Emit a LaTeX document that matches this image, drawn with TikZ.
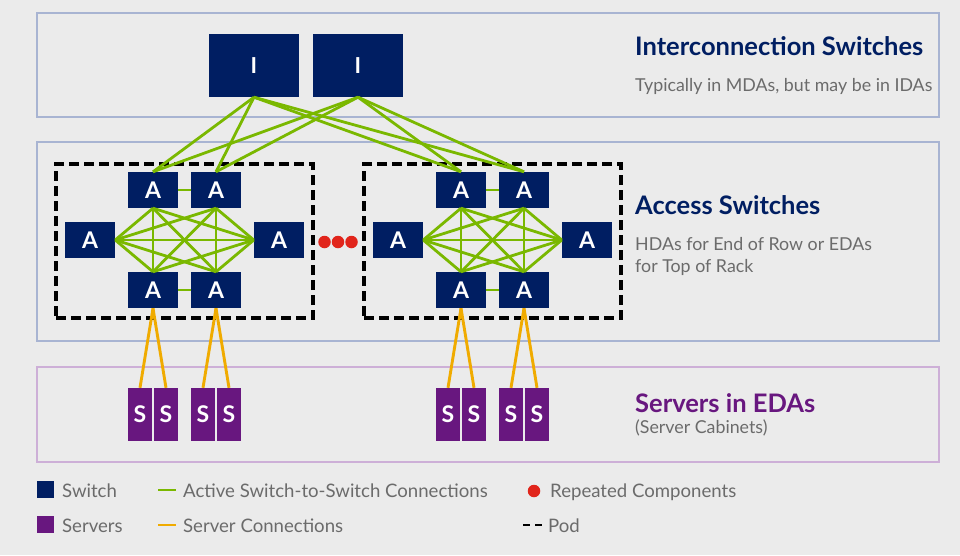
\documentclass[tikz,border=0pt]{standalone}
\usepackage{fontspec}
\setmainfont{Lato}
\definecolor{bgc}{HTML}{EBEBEB}
\definecolor{navy}{HTML}{001E62}
\definecolor{violet}{HTML}{68177F}
\definecolor{lime}{HTML}{7AB800}
\definecolor{amber}{HTML}{F0AB00}
\definecolor{dotred}{HTML}{E1251B}
\definecolor{bandblue}{HTML}{A8B4D2}
\definecolor{bandlilac}{HTML}{CDAFD7}
\definecolor{txtgray}{HTML}{6B6B6B}
\tikzset{
  band/.style={draw=#1, line width=2.6pt, fill=none, inner sep=0pt},
  iswitch/.style={fill=navy, text=white, minimum width=90pt, minimum height=63pt, inner sep=0pt,
    font=\fontsize{22}{26}\selectfont\bfseries},
  aswitch/.style={fill=navy, text=white, minimum width=50pt, minimum height=36pt, inner sep=0pt,
    font=\fontsize{23}{26}\selectfont\bfseries},
  server/.style={fill=violet, text=white, minimum width=24pt, minimum height=53pt, inner sep=0pt,
    font=\fontsize{23}{26}\selectfont\bfseries},
  podbox/.style={draw=black, line width=3.1pt, dash pattern=on 10pt off 5pt, inner sep=0pt},
  mesh/.style={draw=lime, line width=2.8pt},
  srvlink/.style={draw=amber, line width=2.9pt},
  heading/.style={anchor=base west, inner sep=0pt, font=\fontsize{25.5}{29}\selectfont\bfseries},
  note/.style={anchor=base west, inner sep=0pt, text=txtgray, font=\fontsize{17.8}{22}\selectfont},
  legtext/.style={anchor=base west, inner sep=0pt, text=txtgray, font=\fontsize{18.6}{22}\selectfont},
  reddot/.style={circle, fill=dotred, minimum size=12.5pt, inner sep=0pt},
}
\begin{document}
\begin{tikzpicture}[x=1pt, y=-1pt]
\useasboundingbox (0,0) rectangle (960,555);
\fill[bgc] (0,0) rectangle (960,555);

% three horizontal bands
\node[band=bandblue, minimum width=902pt, minimum height=104pt] (bandI) at (488,65) {};
\node[band=bandblue, minimum width=902pt, minimum height=199pt] (bandA) at (488,241.5) {};
\node[band=bandlilac, minimum width=902pt, minimum height=95pt] (bandS) at (488,414.5) {};

% pods (dashed outlines)
\node[podbox, minimum width=257pt, minimum height=154pt] (pod1) at (184.5,241) {};
\node[podbox, minimum width=257pt, minimum height=154pt] (pod2) at (492.5,241) {};

% interconnection switches
\node[iswitch] (i1) at (254,65.5) {I};
\node[iswitch] (i2) at (358,65.5) {I};

% access switches and servers of each pod
\foreach \p/\dx in {p1/0, p2/308}{
  \node[aswitch] (\p tl) at (153+\dx,190) {A};
  \node[aswitch] (\p tr) at (216+\dx,190) {A};
  \node[aswitch] (\p l)  at (90+\dx,240) {A};
  \node[aswitch] (\p r)  at (279+\dx,240) {A};
  \node[aswitch] (\p bl) at (153+\dx,290) {A};
  \node[aswitch] (\p br) at (216+\dx,290) {A};
  \node[server] (\p s1) at (140+\dx,414.5) {S};
  \node[server] (\p s2) at (166+\dx,414.5) {S};
  \node[server] (\p s3) at (203+\dx,414.5) {S};
  \node[server] (\p s4) at (229+\dx,414.5) {S};
  % full mesh between the six access switches
  \draw[mesh] (\p tl.east) -- (\p tr.west);
  \draw[mesh] (\p bl.east) -- (\p br.west);
  \draw[mesh] (\p tl.south) -- (\p bl.north);
  \draw[mesh] (\p tr.south) -- (\p br.north);
  \draw[mesh] (\p tl.south) -- (\p br.north);
  \draw[mesh] (\p tr.south) -- (\p bl.north);
  \draw[mesh] (\p l.east) -- (\p r.west);
  \foreach \n in {tl,tr}{
    \draw[mesh] (\p l.east) -- (\p \n.south);
    \draw[mesh] (\p r.west) -- (\p \n.south);
  }
  \foreach \n in {bl,br}{
    \draw[mesh] (\p l.east) -- (\p \n.north);
    \draw[mesh] (\p r.west) -- (\p \n.north);
  }
  % uplinks to the interconnection switches
  \foreach \i in {i1,i2}{
    \draw[mesh] (\i.south) -- (\p tl.north);
    \draw[mesh] (\i.south) -- (\p tr.north);
  }
  % server connections
  \draw[srvlink] (\p bl.south) -- (\p s1.north);
  \draw[srvlink] (\p bl.south) -- (\p s2.north);
  \draw[srvlink] (\p br.south) -- (\p s3.north);
  \draw[srvlink] (\p br.south) -- (\p s4.north);
}

% repeated components
\node[reddot] (rd1) at (324.5,242) {};
\node[reddot] (rd2) at (338,242) {};
\node[reddot] (rd3) at (351.5,242) {};

% band captions
\node[heading, text=navy] (hI) at (635,55) {Interconnection Switches};
\node[note] (nI) at (635,91) {Typically in MDAs, but may be in IDAs};
\node[heading, text=navy] (hA) at (635,214) {Access Switches};
\node[note] (nA) at (635,250) {HDAs for End of Row or EDAs};
\node[note] (nA2) at (635,272) {for Top of Rack};
\node[heading, text=violet] (hS) at (635,412) {Servers in EDAs};
\node[note] (nS) at (635,433) {(Server Cabinets)};

% legend
\node[fill=navy, minimum size=17pt, inner sep=0pt] (kSw) at (45.5,489.5) {};
\node[legtext] (tSw) at (62,497) {Switch};
\node[fill=violet, minimum size=17pt, inner sep=0pt] (kSv) at (45.5,524.5) {};
\node[legtext] (tSv) at (62,532) {Servers};
\coordinate (kG1) at (158,490); \coordinate (kG2) at (176,490);
\draw[lime, line width=2.6pt] (kG1) -- (kG2);
\node[legtext] (tG) at (183,497) {Active Switch-to-Switch Connections};
\coordinate (kO1) at (158,525); \coordinate (kO2) at (176,525);
\draw[amber, line width=2.6pt] (kO1) -- (kO2);
\node[legtext] (tO) at (183,532) {Server Connections};
\node[reddot] (kR) at (534,491) {};
\node[legtext] (tR) at (550,497) {Repeated Components};
\coordinate (kP1) at (523,525); \coordinate (kP2) at (542,525);
\draw[black, line width=2.6pt, dash pattern=on 7pt off 5pt] (kP1) -- (kP2);
\node[legtext] (tP) at (548,532) {Pod};
\end{tikzpicture}
\end{document}
